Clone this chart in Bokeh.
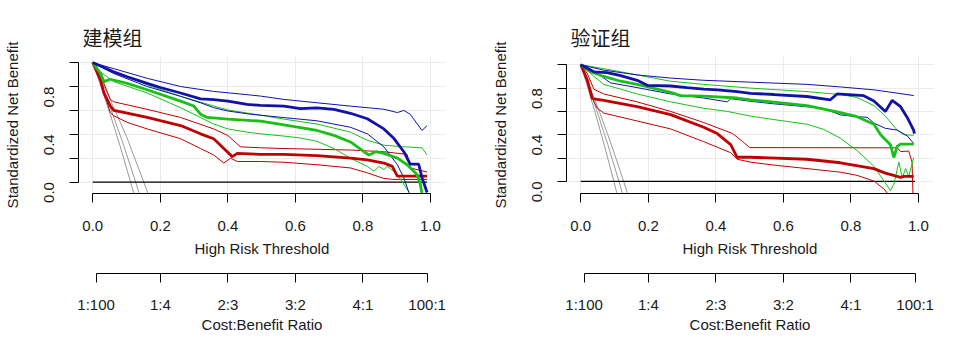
import math
from bokeh.plotting import figure
from bokeh.models import (LinearAxis, FixedTicker, Range1d, Title, Grid,
                          CustomJSTickFormatter, PrintfTickFormatter)
from bokeh.layouts import row
from bokeh.embed import file_html
from bokeh.resources import INLINE

# ---------------- axis ticks / labels ----------------
X_TICKS = [0.0, 0.2, 0.4, 0.6, 0.8, 1.0]
Y_TICKS = [0.0, 0.2, 0.4, 0.6, 0.8, 1.0]
Y_LABELS = ["0.0", "", "0.4", "", "0.8", ""]
CB_LABELS = ["1:100", "1:4", "2:3", "3:2", "4:1", "100:1"]
CB_TICKS = [int(s.split(":")[0]) / (int(s.split(":")[0]) + int(s.split(":")[1])) for s in CB_LABELS]
TITLES = ["建模组", "验证组"]
X_TITLE = "High Risk Threshold"
Y_TITLE = "Standardized Net Benefit"
CB_TITLE = "Cost:Benefit Ratio"

# ---------------- panel 1 : 建模组 ----------------
TR_ALL1_X = [0.0, 0.05, 0.08, 0.112, 0.124]
TR_ALL1_Y = [1.0, 0.58, 0.31, 0.0, -0.12]
TR_ALL2_X = [0.0, 0.05, 0.09, 0.127, 0.14]
TR_ALL2_Y = [1.0, 0.64, 0.32, 0.0, -0.12]
TR_ALL3_X = [0.0, 0.05, 0.10, 0.151, 0.165]
TR_ALL3_Y = [1.0, 0.70, 0.38, 0.0, -0.11]

TR_BLUE_X = [0.0, 0.023, 0.062, 0.102, 0.161, 0.2, 0.26, 0.319, 0.358, 0.4, 0.457, 0.497, 0.566, 0.615,
             0.664, 0.714, 0.763, 0.813, 0.862, 0.892, 0.921, 0.936, 0.94, 0.965, 0.975, 0.99]
TR_BLUE_Y = [1.0, 0.972, 0.923, 0.882, 0.827, 0.792, 0.746, 0.697, 0.691, 0.678, 0.65, 0.642, 0.636, 0.615,
             0.622, 0.609, 0.576, 0.53, 0.445, 0.364, 0.254, 0.172, 0.15, 0.15, 0.036, -0.088]
TR_BLUE_HI_X = [0.0, 0.062, 0.161, 0.26, 0.358, 0.457, 0.497, 0.566, 0.664, 0.763, 0.862, 0.902, 0.921,
                0.94, 0.975, 0.99]
TR_BLUE_HI_Y = [1.0, 0.95, 0.869, 0.80, 0.759, 0.732, 0.72, 0.692, 0.664, 0.636, 0.61, 0.582, 0.60,
                0.568, 0.432, 0.473]
TR_BLUE_LO_X = [0.0, 0.062, 0.161, 0.26, 0.319, 0.358, 0.4, 0.467, 0.566, 0.664, 0.763, 0.813, 0.862,
                0.902, 0.921, 0.936]
TR_BLUE_LO_Y = [1.0, 0.909, 0.80, 0.718, 0.664, 0.623, 0.595, 0.568, 0.54, 0.513, 0.459, 0.404, 0.295,
                0.145, 0.036, -0.088]

TR_GREEN_X = [0.0, 0.023, 0.033, 0.052, 0.102, 0.161, 0.26, 0.299, 0.319, 0.339, 0.4, 0.497, 0.566, 0.664,
              0.714, 0.763, 0.803, 0.818, 0.838, 0.862, 0.902, 0.931, 0.96, 0.97, 0.975]
TR_GREEN_Y = [1.0, 0.909, 0.841, 0.861, 0.827, 0.773, 0.678, 0.637, 0.568, 0.541, 0.527, 0.51, 0.478, 0.432,
              0.391, 0.336, 0.254, 0.227, 0.254, 0.24, 0.20, 0.145, 0.063, -0.019, -0.10]
TR_GREEN_HI_X = [0.0, 0.062, 0.161, 0.26, 0.358, 0.4, 0.497, 0.566, 0.664, 0.763, 0.813, 0.862, 0.921,
                 0.975, 0.99]
TR_GREEN_HI_Y = [1.0, 0.923, 0.814, 0.718, 0.637, 0.604, 0.56, 0.527, 0.486, 0.418, 0.35, 0.309, 0.295,
                 0.287, 0.227]
TR_GREEN_LO_X = [0.0, 0.015, 0.062, 0.161, 0.26, 0.319, 0.358, 0.4, 0.457, 0.497, 0.566, 0.615, 0.664, 0.714,
                 0.763, 0.813, 0.833, 0.847, 0.862, 0.872, 0.882, 0.902, 0.921, 0.94]
TR_GREEN_LO_Y = [1.0, 0.937, 0.841, 0.746, 0.623, 0.541, 0.486, 0.445, 0.418, 0.404, 0.385, 0.369, 0.341, 0.281,
                 0.2, 0.131, 0.09, 0.131, 0.104, 0.131, 0.111, 0.063, -0.019, -0.10]

TR_RED_X = [0.0, 0.023, 0.033, 0.052, 0.062, 0.102, 0.161, 0.2, 0.26, 0.319, 0.358, 0.388, 0.413, 0.428,
            0.497, 0.566, 0.664, 0.763, 0.813, 0.862, 0.887, 0.902, 0.99]
TR_RED_Y = [1.0, 0.855, 0.746, 0.637, 0.601, 0.577, 0.541, 0.514, 0.473, 0.404, 0.363, 0.281, 0.213, 0.24,
            0.232, 0.232, 0.221, 0.2, 0.186, 0.159, 0.131, 0.049, 0.049]
TR_RED_HI_X = [0.0, 0.023, 0.052, 0.062, 0.161, 0.26, 0.358, 0.4, 0.437, 0.497, 0.566, 0.763, 0.862, 0.931,
               0.94, 0.99]
TR_RED_HI_Y = [1.0, 0.896, 0.691, 0.672, 0.609, 0.541, 0.445, 0.39, 0.295, 0.287, 0.281, 0.268, 0.254, 0.232,
               0.118, 0.084]
TR_RED_LO_X = [0.0, 0.023, 0.052, 0.062, 0.102, 0.161, 0.26, 0.319, 0.358, 0.388, 0.408, 0.428, 0.497, 0.566,
               0.664, 0.763, 0.813, 0.862, 0.892, 0.99]
TR_RED_LO_Y = [1.0, 0.84, 0.582, 0.555, 0.5, 0.445, 0.363, 0.281, 0.227, 0.159, 0.2, 0.172, 0.172, 0.166,
               0.145, 0.118, 0.077, 0.03, 0.022, 0.022]

# ---------------- panel 2 : 验证组 ----------------
VA_ALL1_X = [0.0, 0.04, 0.07, 0.098, 0.108]
VA_ALL1_Y = [1.0, 0.617, 0.307, 0.0, -0.114]
VA_ALL2_X = [0.0, 0.04, 0.08, 0.113, 0.123]
VA_ALL2_Y = [1.0, 0.673, 0.317, 0.0, -0.10]
VA_ALL3_X = [0.0, 0.05, 0.09, 0.127, 0.14]
VA_ALL3_Y = [1.0, 0.639, 0.32, 0.0, -0.118]

VA_BLUE_X = [0.0, 0.039, 0.078, 0.118, 0.167, 0.197, 0.266, 0.315, 0.364, 0.404, 0.463, 0.503, 0.572, 0.67,
             0.739, 0.759, 0.838, 0.868, 0.902, 0.922, 0.947, 0.967, 0.986, 0.988]
VA_BLUE_Y = [1.0, 0.94, 0.932, 0.907, 0.867, 0.824, 0.818, 0.804, 0.791, 0.785, 0.769, 0.755, 0.745, 0.728,
             0.70, 0.75, 0.735, 0.69, 0.60, 0.695, 0.641, 0.546, 0.437, 0.41]
VA_BLUE_HI_X = [0.0, 0.068, 0.167, 0.266, 0.364, 0.503, 0.67, 0.769, 0.868, 0.917, 0.986]
VA_BLUE_HI_Y = [1.0, 0.954, 0.913, 0.886, 0.867, 0.851, 0.832, 0.81, 0.785, 0.765, 0.736]
VA_BLUE_LO_X = [0.0, 0.049, 0.068, 0.088, 0.167, 0.266, 0.364, 0.434, 0.444, 0.503, 0.572, 0.67, 0.72, 0.769,
                0.818, 0.848, 0.868, 0.902, 0.937, 0.967, 0.986]
VA_BLUE_LO_Y = [1.0, 0.927, 0.886, 0.845, 0.804, 0.75, 0.715, 0.682, 0.709, 0.687, 0.665, 0.64, 0.625, 0.57,
                0.555, 0.55, 0.50, 0.455, 0.44, 0.39, 0.325]

VA_GREEN_X = [0.0, 0.029, 0.068, 0.118, 0.167, 0.266, 0.295, 0.364, 0.463, 0.503, 0.572, 0.67, 0.769, 0.818,
              0.868, 0.888, 0.917, 0.927, 0.937, 0.947, 0.986]
VA_GREEN_Y = [1.0, 0.94, 0.90, 0.859, 0.832, 0.763, 0.736, 0.731, 0.715, 0.70, 0.68, 0.65, 0.59, 0.555,
              0.49, 0.40, 0.315, 0.205, 0.30, 0.32, 0.32]
VA_GREEN_HI_X = [0.0, 0.068, 0.167, 0.266, 0.364, 0.503, 0.67, 0.769, 0.818, 0.868, 0.902, 0.937, 0.957, 0.986]
VA_GREEN_HI_Y = [1.0, 0.967, 0.913, 0.859, 0.832, 0.80, 0.77, 0.745, 0.72, 0.65, 0.56, 0.44, 0.40, 0.396]
VA_GREEN_LO_X = [0.0, 0.039, 0.068, 0.118, 0.167, 0.266, 0.315, 0.364, 0.434, 0.503, 0.572, 0.67, 0.72, 0.769,
                 0.818, 0.868, 0.898, 0.917, 0.927, 0.942, 0.952, 0.962, 0.971, 0.986]
VA_GREEN_LO_Y = [1.0, 0.90, 0.832, 0.791, 0.75, 0.682, 0.655, 0.627, 0.60, 0.56, 0.53, 0.49, 0.445, 0.37,
                 0.265, 0.13, 0.003, -0.079, -0.025, 0.166, 0.03, 0.11, 0.043, 0.205]

VA_RED_X = [0.0, 0.019, 0.034, 0.068, 0.167, 0.266, 0.364, 0.404, 0.444, 0.463, 0.503, 0.67, 0.769, 0.868,
            0.902, 0.937, 0.947, 0.957, 0.986]
VA_RED_Y = [1.0, 0.872, 0.709, 0.695, 0.641, 0.573, 0.464, 0.41, 0.315, 0.207, 0.207, 0.19, 0.16, 0.11,
            0.071, 0.043, 0.035, 0.043, 0.043]
VA_RED_HI_X = [0.0, 0.019, 0.039, 0.068, 0.167, 0.266, 0.364, 0.45, 0.48, 0.50, 0.937, 0.947, 0.971, 0.981, 0.984]
VA_RED_HI_Y = [1.0, 0.927, 0.79, 0.75, 0.682, 0.6, 0.505, 0.41, 0.34, 0.29, 0.288, 0.256, 0.26, 0.166, -0.134]
VA_RED_LO_X = [0.0, 0.024, 0.039, 0.049, 0.068, 0.167, 0.266, 0.364, 0.444, 0.463, 0.503, 0.572, 0.67, 0.769,
               0.818, 0.868, 0.898, 0.917]
VA_RED_LO_Y = [1.0, 0.832, 0.682, 0.627, 0.586, 0.518, 0.45, 0.341, 0.246, 0.19, 0.165, 0.14, 0.11, 0.079,
               0.052, 0.003, -0.065, -0.134]

NONE_X = [0.0, 0.99]
NONE_Y = [0.0, 0.0]

# ---------------- styling ----------------
FONT = "Liberation Sans"
CJK = "Noto Sans CJK SC"
TEXT = "#1a1a1a"
BLUE = "#1212A8"
GREEN = "#18C018"
RED = "#C00000"
GREY = "#9A9A9A"
GRID_C = "#EBEBEB"
THICK = 2.8
THIN = 1.0


def style_axis(ax, label_standoff, title_standoff):
    ax.major_label_text_font = FONT
    ax.major_label_text_font_size = "15px"
    ax.major_label_text_color = TEXT
    ax.axis_label_text_font = FONT
    ax.axis_label_text_font_size = "15px"
    ax.axis_label_text_font_style = "normal"
    ax.axis_label_text_color = TEXT
    ax.major_tick_in = 0
    ax.major_tick_out = 9
    ax.minor_tick_line_color = None
    ax.axis_line_color = "black"
    ax.major_tick_line_color = "black"
    ax.major_label_standoff = label_standoff
    ax.axis_label_standoff = title_standoff


def make_panel(title, curves, border, y_rng, title_standoff):
    left, right, top, bottom = border
    p = figure(width=479, height=350, output_backend="svg", toolbar_location=None,
               x_range=Range1d(-0.0423, 1.0445), y_range=Range1d(*y_rng),
               x_axis_location=None, y_axis_location=None,
               min_border_left=left, min_border_right=right,
               min_border_top=top, min_border_bottom=bottom,
               title=title)
    p.outline_line_color = None
    p.background_fill_color = "white"
    p.border_fill_color = "white"
    p.grid.visible = False

    p.title.text_font = CJK
    p.title.text_font_size = "20px"
    p.title.text_font_style = "normal"
    p.title.text_color = TEXT
    p.title.align = "left"
    p.title.offset = 4
    p.title.standoff = title_standoff

    xa = LinearAxis(ticker=FixedTicker(ticks=X_TICKS), bounds=(0, 1),
                    formatter=PrintfTickFormatter(format="%.1f"), axis_label=X_TITLE)
    style_axis(xa, 18, 6)
    p.add_layout(xa, "below")

    spacer = Title(text=" ", text_font_size="8px", standoff=3)
    p.add_layout(spacer, "below")

    cb = LinearAxis(ticker=FixedTicker(ticks=CB_TICKS), bounds=(CB_TICKS[0], CB_TICKS[-1]),
                    formatter=CustomJSTickFormatter(args=dict(labels=CB_LABELS), code="return labels[index];"),
                    axis_label=CB_TITLE)
    style_axis(cb, 13, 0)
    p.add_layout(cb, "below")

    ya = LinearAxis(ticker=FixedTicker(ticks=Y_TICKS), bounds=(0, 1),
                    formatter=CustomJSTickFormatter(args=dict(labels=Y_LABELS), code="return labels[index];"),
                    axis_label=Y_TITLE, major_label_orientation=math.pi / 2)
    style_axis(ya, 20, 16)
    p.add_layout(ya, "left")

    p.add_layout(Grid(dimension=0, axis=xa, grid_line_color=GRID_C, grid_line_width=1), "center")
    p.add_layout(Grid(dimension=1, axis=ya, grid_line_color=GRID_C, grid_line_width=1), "center")

    for xs, ys, color, w in curves:
        p.line(xs, ys, line_color=color, line_width=w)
    return p


TR_CURVES = [
    (TR_ALL1_X, TR_ALL1_Y, GREY, THIN), (TR_ALL2_X, TR_ALL2_Y, GREY, THIN), (TR_ALL3_X, TR_ALL3_Y, GREY, THIN),
    (NONE_X, NONE_Y, "black", 1.2),
    (TR_RED_HI_X, TR_RED_HI_Y, RED, THIN), (TR_RED_LO_X, TR_RED_LO_Y, RED, THIN),
    (TR_GREEN_HI_X, TR_GREEN_HI_Y, GREEN, THIN), (TR_GREEN_LO_X, TR_GREEN_LO_Y, GREEN, THIN),
    (TR_BLUE_HI_X, TR_BLUE_HI_Y, BLUE, THIN), (TR_BLUE_LO_X, TR_BLUE_LO_Y, BLUE, THIN),
    (TR_RED_X, TR_RED_Y, RED, THICK), (TR_GREEN_X, TR_GREEN_Y, GREEN, THICK), (TR_BLUE_X, TR_BLUE_Y, BLUE, THICK),
]
VA_CURVES = [
    (VA_ALL1_X, VA_ALL1_Y, GREY, THIN), (VA_ALL2_X, VA_ALL2_Y, GREY, THIN), (VA_ALL3_X, VA_ALL3_Y, GREY, THIN),
    (NONE_X, NONE_Y, "black", 1.2),
    (VA_RED_HI_X, VA_RED_HI_Y, RED, THIN), (VA_RED_LO_X, VA_RED_LO_Y, RED, THIN),
    (VA_GREEN_HI_X, VA_GREEN_HI_Y, GREEN, THIN), (VA_GREEN_LO_X, VA_GREEN_LO_Y, GREEN, THIN),
    (VA_BLUE_HI_X, VA_BLUE_HI_Y, BLUE, THIN), (VA_BLUE_LO_X, VA_BLUE_LO_Y, BLUE, THIN),
    (VA_RED_X, VA_RED_Y, RED, THICK), (VA_GREEN_X, VA_GREEN_Y, GREEN, THICK), (VA_BLUE_X, VA_BLUE_Y, BLUE, THICK),
]

p1 = make_panel(TITLES[0], TR_CURVES, (78, 34, 56, 154), (-0.0959, 1.0516), 9)
p2 = make_panel(TITLES[1], VA_CURVES, (87, 25, 49, 157), (-0.1036, 1.0710), 10)

layout = row(p1, p2)
open("out.html", "w").write(file_html(layout, INLINE))
